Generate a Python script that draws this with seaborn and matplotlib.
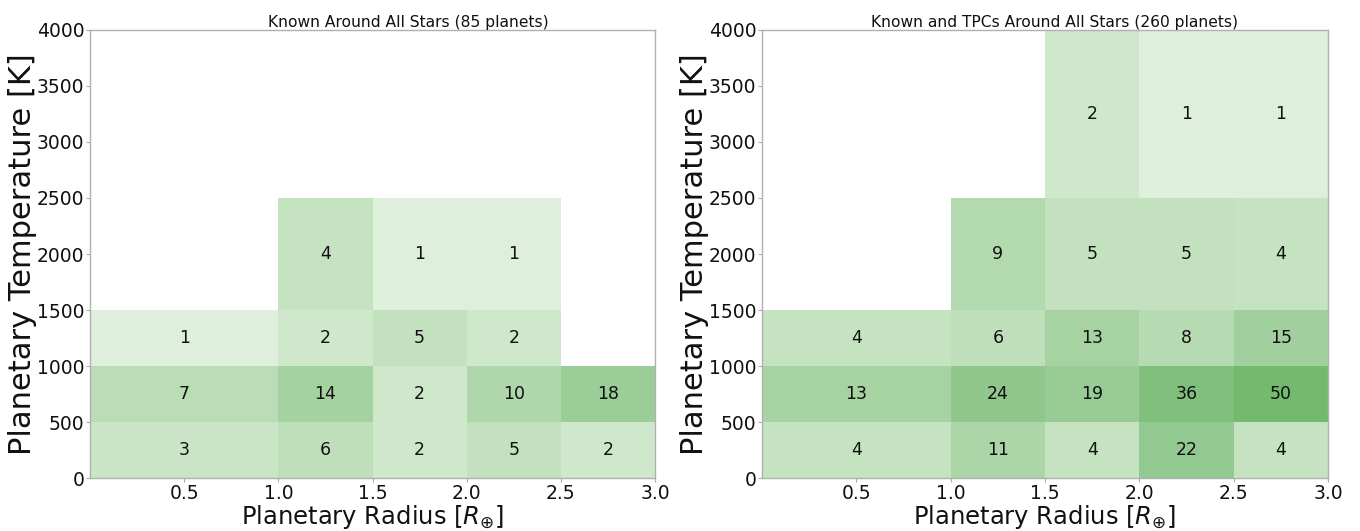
import numpy as np
import pandas as pd
import matplotlib
matplotlib.use("Agg")
import matplotlib.pyplot as plt
import seaborn as sns
from matplotlib.colors import LinearSegmentedColormap, PowerNorm

# ---- data ----
radius_edges = [0.0, 1.0, 1.5, 2.0, 2.5, 3.0]
temp_edges = [0, 500, 1000, 1500, 2500, 4000]
x_ticks = [0.5, 1.0, 1.5, 2.0, 2.5, 3.0]
y_ticks = [0, 500, 1000, 1500, 2000, 2500, 3000, 3500, 4000]

# rows: temperature bins (low -> high); columns: radius bins (small -> large)
known_counts = [
    [3, 6, 2, 5, 2],
    [7, 14, 2, 10, 18],
    [1, 2, 5, 2, 0],
    [0, 4, 1, 1, 0],
    [0, 0, 0, 0, 0],
]
known_tpc_counts = [
    [4, 11, 4, 22, 4],
    [13, 24, 19, 36, 50],
    [4, 6, 13, 8, 15],
    [0, 9, 5, 5, 4],
    [0, 0, 2, 1, 1],
]
titles = ["Known Around All Stars (85 planets)",
          "Known and TPCs Around All Stars (260 planets)"]
title_x = [0.563, 0.516]

sns.set_theme(style="white")
plt.rcParams["font.family"] = ["DejaVu Sans"]
plt.rcParams["text.color"] = "#111111"
plt.rcParams["axes.labelcolor"] = "#111111"
plt.rcParams["xtick.color"] = "#111111"
plt.rcParams["ytick.color"] = "#111111"

cmap = LinearSegmentedColormap.from_list(
    "softgreens", [(0.87, 0.94, 0.86), (0.76, 0.88, 0.74), (0.58, 0.79, 0.57), (0.45, 0.73, 0.43)])
norm = PowerNorm(gamma=0.45, vmin=1, vmax=50)

fig = plt.figure(figsize=(13.6, 5.31), dpi=100)
axes = [fig.add_axes([90 / 1360, 53 / 531, 565 / 1360, 448 / 531]),
        fig.add_axes([762 / 1360, 53 / 531, 566 / 1360, 448 / 531])]

def centers(edges):
    e = np.asarray(edges, dtype=float)
    return (e[:-1] + e[1:]) / 2

xc = centers(radius_edges)
yc = centers(temp_edges)

for ax, counts, title, tx in zip(axes, [known_counts, known_tpc_counts], titles, title_x):
    rows = []
    for i, yv in enumerate(yc):
        for j, xv in enumerate(xc):
            rows.append({"radius": xv, "temp": yv, "count": counts[i][j]})
    df = pd.DataFrame(rows)
    sns.histplot(data=df, x="radius", y="temp", weights="count",
                 bins=(radius_edges, temp_edges), cmap=cmap, ax=ax)
    mesh = ax.collections[-1]
    mesh.set_norm(norm)
    mesh.set_cmap(cmap)
    mesh.set_linewidth(0)
    for _, r in df.iterrows():
        if r["count"] > 0:
            ax.text(r["radius"], r["temp"], f"{int(r['count'])}",
                    ha="center", va="center", fontsize=12.5, color="#111111")
    ax.set_xlim(0, 3.0)
    ax.set_ylim(0, 4000)
    ax.set_xticks(x_ticks)
    ax.set_xticklabels([f"{v:.1f}" for v in x_ticks])
    ax.set_yticks(y_ticks)
    ax.tick_params(axis="both", labelsize=13.5, length=3, width=0.8,
                   color="#aaaaaa", labelcolor="#111111", pad=1.0,
                   bottom=True, left=True)
    for s in ax.spines.values():
        s.set_color("#b0b0b0")
        s.set_linewidth(1.0)
    ax.set_xlabel(r"Planetary Radius [$R_{\oplus}$]", fontsize=17.5, labelpad=0)
    ax.set_ylabel("Planetary Temperature [K]", fontsize=22, labelpad=0)
    ax.set_title(title, fontsize=11.2, x=tx, pad=2)

fig.savefig("out.png", dpi=100)
